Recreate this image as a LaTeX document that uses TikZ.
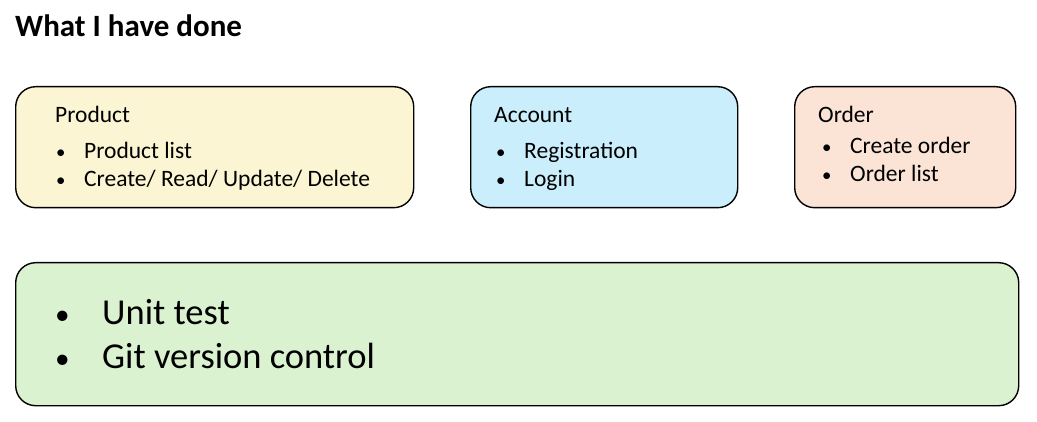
\documentclass[tikz,border=0pt]{standalone}
\usepackage{fontspec}
\setmainfont{Carlito}
\definecolor{prodfill}{HTML}{FBF5D3}
\definecolor{accfill}{HTML}{CAEEFB}
\definecolor{ordfill}{HTML}{FBE3D6}
\definecolor{testfill}{HTML}{DAF2D0}
\newcommand{\bul}{\scalebox{0.8}{\textbullet}}
\begin{document}
\begin{tikzpicture}[x=1pt,y=-1pt,
  box/.style={draw, line width=1.4pt, rounded corners=20pt, anchor=north west, inner sep=0pt},
  txt/.style={anchor=base west, inner sep=0pt, font=\fontsize{23.5}{27}\selectfont},
  bigtxt/.style={anchor=base west, inner sep=0pt, font=\fontsize{36.5}{40}\selectfont}]
\useasboundingbox (0,0) rectangle (1037,422);
\node[anchor=base west, inner sep=0pt, font=\fontsize{31}{36}\selectfont\bfseries] (title) at (15,37) {What I have done};
% module boxes
\node[box, fill=prodfill, minimum width=398pt, minimum height=121pt] (product) at (15,86) {};
\node[box, fill=accfill, minimum width=267pt, minimum height=121pt] (account) at (470,86) {};
\node[box, fill=ordfill, minimum width=221pt, minimum height=121pt] (order) at (794,86) {};
\node[box, fill=testfill, minimum width=1003pt, minimum height=143pt] (extra) at (15,262) {};
% product
\node[txt] (prodhead) at (55,123) {Product};
\node[txt] (prodb1) at (56,159) {\bul};
\node[txt] (prodi1) at (84,159) {Product list};
\node[txt] (prodb2) at (56,187) {\bul};
\node[txt] (prodi2) at (84,187) {Create/ Read/ Update/ Delete};
% account
\node[txt] (acchead) at (494,123) {Account};
\node[txt] (accb1) at (496,159) {\bul};
\node[txt] (acci1) at (524,159) {Registration};
\node[txt] (accb2) at (496,187) {\bul};
\node[txt] (acci2) at (524,187) {Login};
% order
\node[txt] (ordhead) at (818,123) {Order};
\node[txt] (ordb1) at (822,154) {\bul};
\node[txt] (ordi1) at (850,154) {Create order};
\node[txt] (ordb2) at (822,182) {\bul};
\node[txt] (ordi2) at (850,182) {Order list};
% test
\node[bigtxt] (testb1) at (55,324) {\bul};
\node[bigtxt] (testi1) at (102,324) {Unit test};
\node[bigtxt] (testb2) at (55,368) {\bul};
\node[bigtxt] (testi2) at (102,368) {Git version control};
\end{tikzpicture}
\end{document}
